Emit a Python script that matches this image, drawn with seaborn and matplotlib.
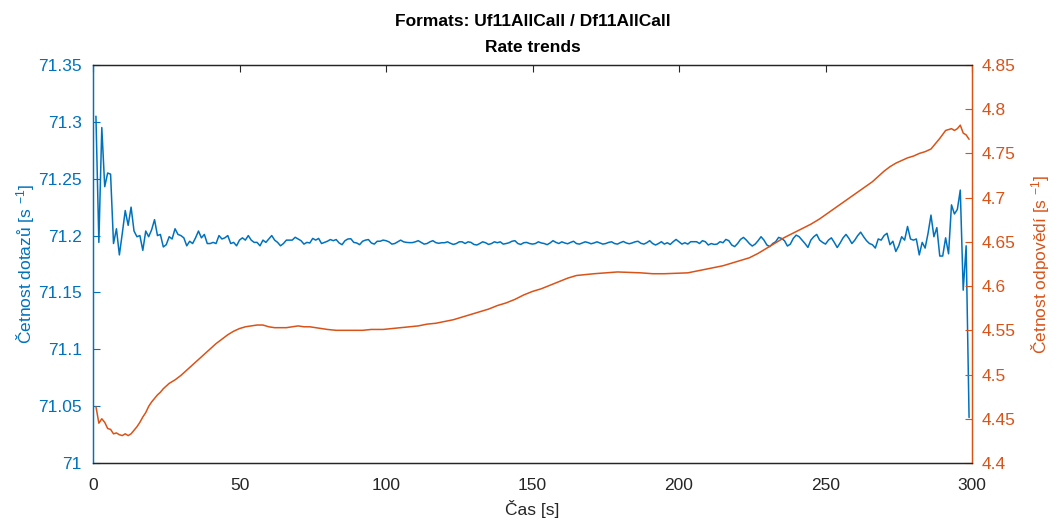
import numpy as np
import pandas as pd
import matplotlib
matplotlib.use("Agg")
import matplotlib.pyplot as plt
from matplotlib.ticker import MultipleLocator, FuncFormatter
import seaborn as sns

# ---------------- data ----------------
query_rate = [
    71.305, 71.194, 71.295, 71.243, 71.255, 71.254, 71.193, 71.206, 71.183, 71.202,
    71.222, 71.209, 71.225, 71.204, 71.199, 71.200, 71.187, 71.204, 71.199, 71.205,
    71.214, 71.200, 71.201, 71.190, 71.192, 71.199, 71.197, 71.206, 71.201, 71.200,
    71.198, 71.191, 71.195, 71.193, 71.198, 71.204, 71.198, 71.201, 71.193, 71.193,
    71.194, 71.193, 71.200, 71.197, 71.198, 71.200, 71.193, 71.194, 71.191, 71.196,
    71.198, 71.196, 71.200, 71.196, 71.194, 71.194, 71.191, 71.196, 71.194, 71.197,
    71.200, 71.196, 71.194, 71.191, 71.193, 71.196, 71.196,
    71.1960, 71.1985, 71.1970, 71.1955, 71.1925, 71.1940, 71.1935, 71.1975, 71.1960, 71.1975,
    71.1930, 71.1940, 71.1950, 71.1965, 71.1955, 71.1965, 71.1935, 71.1920, 71.1955, 71.1970,
    71.1972, 71.1940, 71.1935, 71.1920, 71.1950, 71.1960, 71.1965, 71.1935, 71.1925, 71.1950,
    71.1950, 71.1960, 71.1955, 71.1945, 71.1925, 71.1930, 71.1945, 71.1960, 71.1945, 71.1940,
    71.1938, 71.1938, 71.1945, 71.1955, 71.1940, 71.1925, 71.1930, 71.1945, 71.1955, 71.1938,
    71.1932, 71.1937, 71.1937, 71.1945, 71.1932, 71.1922, 71.1930, 71.1945, 71.1945, 71.1930,
    71.1945, 71.1940, 71.1922, 71.1917, 71.1930, 71.1945, 71.1937, 71.1922, 71.1930, 71.1945,
    71.1937, 71.1945, 71.1925, 71.1930, 71.1937, 71.1950, 71.1955, 71.1930, 71.1922, 71.1937,
    71.1940, 71.1930, 71.1925, 71.1930, 71.1945, 71.1935, 71.1930, 71.1920, 71.1935, 71.1955,
    71.1940, 71.1930, 71.1945, 71.1935, 71.1928, 71.1940, 71.1950, 71.1930, 71.1925, 71.1935,
    71.1945, 71.1938, 71.1928, 71.1935, 71.1945, 71.1935, 71.1925, 71.1930, 71.1940, 71.1945,
    71.1930, 71.1925, 71.1938, 71.1948, 71.1935, 71.1928, 71.1935, 71.1945, 71.1950, 71.1932,
    71.1925, 71.1937, 71.1955, 71.1930, 71.1917, 71.1930, 71.1946, 71.1925, 71.1937, 71.1922,
    71.1946, 71.1966, 71.1946, 71.1925, 71.1937, 71.1925, 71.1946, 71.1946, 71.1946, 71.1930,
    71.1955, 71.1946, 71.1917, 71.1930, 71.1922, 71.1925, 71.1946, 71.1937, 71.1966, 71.1955,
    71.1917, 71.1903, 71.1930, 71.1966, 71.1984, 71.1960, 71.1930, 71.1908, 71.1925, 71.1955,
    71.1990, 71.1960, 71.1917, 71.1903, 71.1930, 71.1946, 71.1984, 71.1975, 71.1955, 71.1908,
    71.1925, 71.1975, 71.2004, 71.1990, 71.1960, 71.1930, 71.1896, 71.1960, 71.1990, 71.2010,
    71.1960, 71.1940, 71.1925, 71.1960, 71.1980, 71.1940, 71.1895, 71.1935, 71.1980, 71.2010,
    71.1975, 71.1930, 71.1960, 71.2000, 71.2030, 71.1990, 71.1955,
    71.193, 71.192, 71.189, 71.197, 71.196, 71.200, 71.202, 71.192, 71.195, 71.186,
    71.191, 71.199, 71.196, 71.208, 71.197, 71.196, 71.197, 71.183, 71.194, 71.189,
    71.202, 71.218, 71.199, 71.207, 71.182, 71.182, 71.198, 71.184, 71.227, 71.219,
    71.223, 71.240, 71.152, 71.191, 71.040,
]
query_time = list(range(1, len(query_rate) + 1))

reply_time = [
    1, 2, 3, 4, 5, 6, 7, 8, 9, 10, 11, 12, 13, 14, 15, 16, 17, 18, 19, 20,
    21, 22, 23, 24, 25, 26, 28, 30, 32, 34, 36, 38, 40, 42, 44, 46, 48, 50,
    52, 54, 56, 58, 60, 62, 64, 66, 68, 70, 72, 74, 76, 78, 80, 83, 86, 89,
    92, 95, 99, 102, 105, 108, 111, 114, 117, 120, 123, 126, 129, 132, 135,
    138, 141, 144, 147, 150, 153, 156, 159, 162, 165, 168, 171, 175, 179,
    183, 187, 191, 195, 199, 203, 206, 209, 212, 215, 218, 221, 224, 227,
    230, 233, 236, 239, 242, 245, 248, 251, 254, 257, 260, 263, 266, 268,
    270, 272, 274, 276, 278, 280, 282, 284, 286, 287, 289, 291, 292, 293,
    294, 295, 296, 297, 298, 299,
]
reply_rate = [
    4.464, 4.445, 4.450, 4.446, 4.439, 4.438, 4.433, 4.434, 4.432, 4.431,
    4.433, 4.431, 4.433, 4.437, 4.441, 4.446, 4.452, 4.457, 4.464, 4.469,
    4.473, 4.477, 4.480, 4.484, 4.487, 4.490, 4.494, 4.499, 4.505, 4.511,
    4.517, 4.523, 4.529, 4.535, 4.540, 4.545, 4.549, 4.552,
    4.554, 4.555, 4.556, 4.556, 4.554, 4.553, 4.553, 4.553, 4.554, 4.555,
    4.554, 4.554, 4.553, 4.552, 4.551, 4.550, 4.550, 4.550,
    4.550, 4.551, 4.551, 4.552, 4.553, 4.554, 4.555, 4.557, 4.558, 4.560,
    4.562, 4.565, 4.568, 4.571, 4.574,
    4.578, 4.581, 4.585, 4.590, 4.594, 4.597, 4.601, 4.605, 4.609, 4.612,
    4.613, 4.614, 4.615, 4.616,
    4.6155, 4.615, 4.614, 4.614, 4.6145, 4.615, 4.617, 4.619, 4.621, 4.623,
    4.626, 4.629, 4.632, 4.637,
    4.643, 4.649, 4.655, 4.660, 4.665, 4.670, 4.676, 4.683, 4.690, 4.697,
    4.704, 4.711, 4.718, 4.724,
    4.730, 4.735, 4.739, 4.742, 4.745, 4.747, 4.750, 4.752, 4.755, 4.759,
    4.767, 4.776, 4.777, 4.778,
    4.776, 4.778, 4.782, 4.773, 4.771, 4.766,
]

title_lines = ["Formats: Uf11AllCall / Df11AllCall", "Rate trends"]
x_label = "Čas [s]"
left_label = "Četnost dotazů [s $^{-1}$]"
right_label = "Četnost odpovědí [s $^{-1}$]"
x_ticks = [0, 50, 100, 150, 200, 250, 300]

# ---------------- style ----------------
BLUE = "#0072BD"
ORANGE = "#D95319"
DARK = "#262626"

sns.set_style("white")
plt.rcParams["font.family"] = ["Liberation Sans", "DejaVu Sans"]
plt.rcParams["mathtext.fontset"] = "custom"
plt.rcParams["mathtext.rm"] = "Liberation Sans"
plt.rcParams["mathtext.it"] = "Liberation Sans:italic"
plt.rcParams["mathtext.bf"] = "Liberation Sans:bold"

q_df = pd.DataFrame({"t": query_time, "v": query_rate})
r_df = pd.DataFrame({"t": reply_time, "v": reply_rate})

fig = plt.figure(figsize=(10.57, 5.23), dpi=100)
ax = fig.add_axes([93 / 1057, 1 - 463 / 523, (972 - 93) / 1057, (463 - 65) / 523])
ax2 = ax.twinx()

sns.lineplot(data=q_df, x="t", y="v", ax=ax, color=BLUE, linewidth=1.1)
sns.lineplot(data=r_df, x="t", y="v", ax=ax2, color=ORANGE, linewidth=1.1)

FS = 12.5
ax.set_xlim(0, 300)
ax.set_ylim(71.0, 71.35)
ax2.set_ylim(4.4, 4.85)
ax.set_xticks(x_ticks)
ax.yaxis.set_major_locator(MultipleLocator(0.05))
ax2.yaxis.set_major_locator(MultipleLocator(0.05))
fmt = FuncFormatter(lambda v, p: f"{round(v, 4):g}")
ax.yaxis.set_major_formatter(fmt)
ax2.yaxis.set_major_formatter(fmt)

ax.set_xlabel(x_label, fontsize=FS, color=DARK, labelpad=5)
ax.set_ylabel(left_label, fontsize=FS, color=BLUE, labelpad=1)
ax2.set_ylabel(right_label, fontsize=FS, color=ORANGE, labelpad=10)

ax.tick_params(axis="x", direction="in", length=5, width=0.8, colors=DARK,
               labelsize=FS, top=True, pad=11)
ax.tick_params(axis="y", direction="in", length=5, width=0.8, colors=BLUE,
               labelsize=FS, left=True, right=False, pad=8)
ax2.tick_params(axis="y", direction="in", length=5, width=0.8, colors=ORANGE,
                labelsize=FS, right=True, left=False, pad=7)
ax2.tick_params(axis="x", top=True, direction="in", length=5, colors=DARK)

for a in (ax, ax2):
    a.spines["top"].set_color(DARK)
    a.spines["bottom"].set_color(DARK)
    a.spines["left"].set_color(BLUE)
    a.spines["right"].set_color(ORANGE)
    for s in a.spines.values():
        s.set_linewidth(0.9)
ax.grid(False)
ax2.grid(False)

ax.set_title("\n".join(title_lines), fontsize=FS, fontweight="bold",
             color="black", pad=9, linespacing=1.95)

fig.savefig("out.png", dpi=100)
